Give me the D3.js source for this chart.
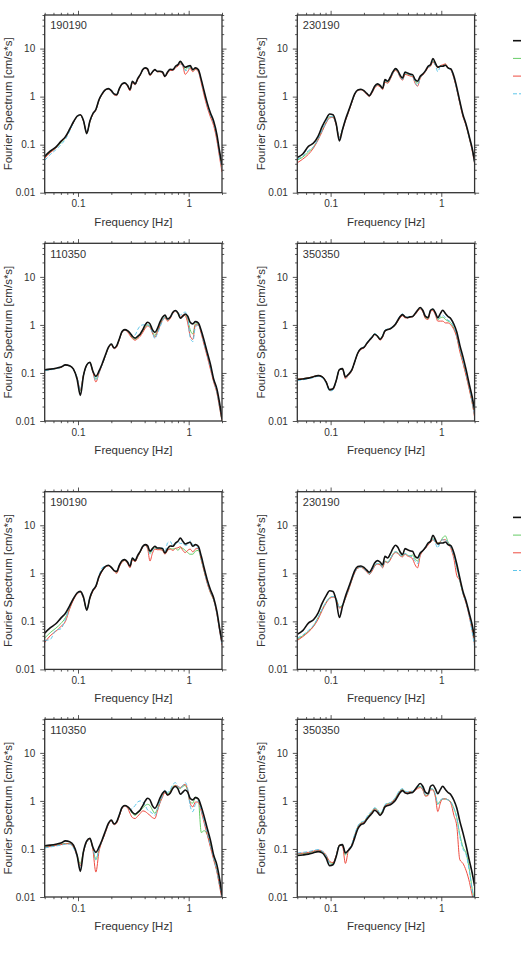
<!DOCTYPE html>
<html><head><meta charset="utf-8">
<script src="https://cdn.jsdelivr.net/npm/d3@7"></script>
<style>html,body{margin:0;padding:0;background:#fff;}svg{display:block;}</style>
</head><body>
<script>
const freq = [0.05,0.056,0.063,0.07,0.077,0.084,0.091,0.098,0.105,0.112,0.12,0.128,0.136,0.145,0.155,0.165,0.176,0.188,0.2,0.212,0.224,0.236,0.25,0.265,0.28,0.295,0.31,0.328,0.346,0.365,0.385,0.405,0.425,0.447,0.47,0.495,0.52,0.55,0.58,0.61,0.645,0.68,0.72,0.76,0.8,0.84,0.885,0.93,0.98,1.03,1.09,1.15,1.22,1.3,1.38,1.47,1.57,1.68,1.8,1.9,2.0];

const obs190190 = [0.057,0.073,0.089,0.117,0.147,0.21,0.30,0.39,0.42,0.32,0.17,0.31,0.44,0.54,0.87,1.14,1.38,1.47,1.33,1.14,1.1,1.47,1.84,1.93,1.72,1.4,2.09,1.84,2.37,2.87,3.65,3.96,3.77,2.87,3.26,3.65,3.37,3.37,3.26,2.65,3.26,3.71,3.65,4.28,4.64,5.45,4.64,4.08,4.28,4.42,3.65,3.96,3.65,2.26,1.29,0.74,0.46,0.31,0.16,0.073,0.038];
const obs230190 = [0.054,0.064,0.092,0.108,0.149,0.24,0.34,0.435,0.42,0.28,0.12,0.205,0.33,0.5,0.77,1.14,1.38,1.42,1.33,1.17,1.05,1.25,1.64,1.84,1.72,1.5,2.26,2.09,2.53,3.26,3.83,3.48,2.78,2.45,3.26,3.1,2.96,2.87,2.26,2.09,2.65,2.96,3.48,4.28,4.64,6.2,5.0,4.08,4.28,4.28,4.5,3.96,3.77,2.65,1.56,0.8,0.42,0.26,0.14,0.085,0.045];
const obs110350 = [0.117,0.12,0.125,0.133,0.147,0.142,0.12,0.075,0.034,0.088,0.147,0.167,0.11,0.085,0.11,0.154,0.23,0.34,0.4,0.33,0.37,0.51,0.73,0.8,0.76,0.68,0.58,0.53,0.58,0.65,0.8,1.0,1.14,1.05,0.8,0.7,0.83,1.14,1.44,1.6,1.33,1.44,1.84,1.99,1.78,1.38,1.52,1.69,1.52,1.14,1.05,1.17,1.1,0.76,0.47,0.27,0.154,0.075,0.046,0.024,0.011];
const obs350350 = [0.073,0.075,0.078,0.083,0.088,0.083,0.065,0.045,0.047,0.068,0.117,0.123,0.083,0.094,0.114,0.17,0.26,0.32,0.34,0.41,0.48,0.545,0.64,0.58,0.5,0.58,0.75,0.8,0.83,0.91,1.03,1.25,1.5,1.64,1.47,1.42,1.47,1.5,1.72,2.02,2.3,2.02,1.5,1.42,2.02,2.15,1.78,1.42,1.72,2.02,1.72,1.5,1.35,1.03,0.71,0.38,0.216,0.114,0.055,0.032,0.017];

// (a) upper figure
const green1a = [0.055,0.07,0.085,0.11,0.14,0.2,0.29,0.38,0.41,0.31,0.175,0.3,0.43,0.53,0.85,1.12,1.36,1.45,1.3,1.1,1.08,1.45,1.8,1.9,1.7,1.38,2.0,1.8,2.3,2.8,3.6,3.9,3.7,2.8,3.2,3.6,3.3,3.3,3.2,2.6,3.2,3.6,3.6,4.2,4.5,5.2,4.5,3.7,4.0,4.2,3.5,3.8,3.5,2.1,1.2,0.7,0.43,0.29,0.14,0.065,0.032];
const red1a = [0.052,0.068,0.085,0.115,0.14,0.2,0.29,0.38,0.41,0.31,0.18,0.3,0.42,0.52,0.84,1.1,1.35,1.44,1.28,1.08,1.05,1.42,1.78,1.88,1.65,1.32,1.95,1.75,2.25,2.8,3.55,3.85,3.6,2.75,3.15,3.55,3.25,3.3,3.1,2.55,3.1,3.5,3.5,4.0,4.3,4.8,4.3,2.9,3.3,3.9,3.3,3.7,3.3,1.9,1.05,0.6,0.38,0.25,0.12,0.055,0.027];
const cyan1a = [0.047,0.062,0.078,0.1,0.13,0.19,0.29,0.38,0.41,0.32,0.18,0.3,0.43,0.53,0.85,1.12,1.37,1.46,1.3,1.1,1.08,1.45,1.8,1.9,1.7,1.38,2.05,1.8,2.35,2.85,3.6,3.9,3.7,2.85,3.25,3.6,3.3,3.35,3.2,2.6,3.2,3.6,3.6,4.2,4.5,5.0,4.4,3.5,3.6,4.3,3.6,3.9,3.5,2.1,1.2,0.68,0.42,0.28,0.14,0.062,0.032];
const green2a = [0.048,0.055,0.07,0.09,0.13,0.2,0.29,0.38,0.38,0.27,0.14,0.21,0.32,0.48,0.75,1.12,1.36,1.4,1.3,1.15,1.03,1.2,1.55,1.75,1.65,1.45,2.1,1.95,2.4,3.1,3.6,3.3,2.6,2.3,3.0,2.9,2.8,2.7,2.1,1.9,2.5,2.85,3.4,4.1,4.4,5.5,4.6,4.0,4.3,4.4,4.7,4.0,3.7,2.5,1.45,0.75,0.4,0.25,0.13,0.08,0.042];
const red2a = [0.042,0.05,0.063,0.085,0.125,0.19,0.28,0.36,0.37,0.26,0.14,0.2,0.31,0.47,0.74,1.1,1.34,1.38,1.28,1.12,1.0,1.18,1.5,1.7,1.6,1.4,2.0,1.9,2.3,3.0,3.5,3.2,2.5,2.2,2.9,2.8,2.7,2.6,1.9,1.65,2.4,2.8,3.3,4.0,4.3,5.3,4.5,4.0,4.4,4.6,4.8,4.0,3.6,2.4,1.4,0.72,0.38,0.24,0.13,0.075,0.04];
const cyan2a = [0.05,0.058,0.075,0.09,0.13,0.2,0.29,0.38,0.38,0.27,0.14,0.21,0.32,0.49,0.76,1.12,1.36,1.4,1.3,1.15,1.03,1.22,1.58,1.78,1.66,1.45,2.15,2.0,2.4,3.1,3.7,3.35,2.6,2.3,3.1,3.0,2.85,2.7,2.0,1.7,2.5,2.85,3.4,4.1,4.4,5.6,4.5,3.3,4.2,4.4,4.5,3.9,3.6,2.5,1.4,0.75,0.4,0.25,0.13,0.08,0.04];
const green3a = [0.115,0.118,0.123,0.13,0.145,0.14,0.118,0.08,0.042,0.09,0.145,0.165,0.11,0.075,0.105,0.15,0.22,0.33,0.39,0.33,0.36,0.5,0.72,0.79,0.74,0.64,0.55,0.5,0.55,0.62,0.75,0.9,1.0,0.95,0.72,0.6,0.75,1.0,1.3,1.45,1.25,1.4,1.8,1.95,1.7,1.4,1.55,1.6,1.3,0.8,0.65,1.05,1.05,0.7,0.42,0.24,0.14,0.07,0.04,0.02,0.01];
const red3a = [0.115,0.118,0.123,0.13,0.145,0.14,0.118,0.08,0.045,0.09,0.145,0.163,0.105,0.065,0.1,0.148,0.22,0.33,0.39,0.32,0.35,0.49,0.7,0.78,0.72,0.6,0.52,0.48,0.52,0.58,0.7,0.85,0.95,0.9,0.68,0.55,0.7,0.95,1.25,1.4,1.2,1.35,1.75,1.9,1.75,1.45,1.6,1.55,1.1,0.6,0.5,1.0,1.0,0.65,0.38,0.22,0.12,0.065,0.038,0.019,0.01];
const cyan3a = [0.112,0.116,0.122,0.13,0.145,0.14,0.118,0.082,0.045,0.09,0.145,0.163,0.108,0.07,0.1,0.15,0.22,0.34,0.4,0.33,0.37,0.5,0.72,0.8,0.75,0.65,0.6,0.62,0.8,0.95,1.0,1.0,1.0,0.9,0.7,0.52,0.65,0.9,1.2,1.45,1.3,1.4,1.75,1.95,1.85,1.6,1.75,1.85,1.4,0.55,0.45,0.9,1.0,0.7,0.4,0.24,0.13,0.07,0.04,0.02,0.011];
const green4a = [0.074,0.076,0.079,0.084,0.089,0.084,0.066,0.044,0.046,0.068,0.118,0.122,0.08,0.092,0.112,0.17,0.26,0.32,0.34,0.41,0.48,0.55,0.65,0.6,0.52,0.6,0.76,0.8,0.83,0.9,1.0,1.2,1.45,1.6,1.45,1.42,1.48,1.5,1.7,1.95,2.2,1.95,1.4,1.35,2.0,2.1,1.7,1.3,1.4,1.45,1.3,1.2,1.1,0.85,0.58,0.3,0.17,0.09,0.045,0.025,0.013];
const red4a = [0.074,0.076,0.079,0.084,0.089,0.084,0.066,0.044,0.045,0.066,0.116,0.12,0.076,0.09,0.11,0.17,0.25,0.31,0.33,0.4,0.47,0.54,0.63,0.58,0.48,0.56,0.74,0.8,0.83,0.9,1.0,1.2,1.4,1.55,1.4,1.4,1.45,1.48,1.65,1.9,2.15,1.9,1.35,1.3,1.9,2.0,1.6,1.2,1.2,1.2,1.1,1.1,1.0,0.8,0.55,0.28,0.16,0.085,0.043,0.024,0.012];
const cyan4a = [0.07,0.072,0.076,0.08,0.085,0.08,0.062,0.042,0.044,0.066,0.118,0.122,0.08,0.092,0.112,0.17,0.26,0.33,0.35,0.42,0.5,0.57,0.66,0.6,0.52,0.6,0.78,0.82,0.86,0.93,1.05,1.3,1.55,1.7,1.5,1.45,1.5,1.5,1.72,2.0,2.25,2.0,1.45,1.4,2.05,2.15,1.75,1.35,1.5,1.6,1.4,1.25,1.15,0.9,0.6,0.32,0.18,0.095,0.047,0.026,0.013];

// (b) lower figure
const green5b = [0.045,0.058,0.072,0.09,0.12,0.19,0.29,0.38,0.41,0.31,0.18,0.3,0.43,0.53,0.85,1.12,1.36,1.45,1.35,1.15,1.05,1.4,1.75,1.85,1.65,1.4,1.95,1.8,2.2,2.8,3.6,3.8,3.4,2.6,3.1,3.4,3.2,3.2,3.0,2.6,3.0,3.3,3.2,3.3,3.0,3.4,3.3,3.0,2.7,2.5,2.5,2.9,3.0,1.9,1.1,0.65,0.4,0.28,0.15,0.07,0.035];
const red5b = [0.036,0.05,0.062,0.078,0.1,0.18,0.28,0.37,0.4,0.3,0.18,0.3,0.42,0.52,0.82,1.1,1.35,1.42,1.3,1.1,1.0,1.35,1.7,1.85,1.6,1.3,1.9,1.75,2.2,2.8,3.5,3.8,3.3,1.8,2.6,3.2,3.1,3.1,3.0,2.5,3.0,3.2,3.0,3.3,3.4,3.6,3.0,2.7,3.0,3.2,2.8,3.2,3.3,1.9,1.1,0.62,0.4,0.28,0.14,0.065,0.032];
const cyan5b = [0.04,0.042,0.065,0.07,0.11,0.2,0.3,0.38,0.41,0.3,0.18,0.32,0.45,0.55,0.9,1.3,1.4,1.45,1.3,1.15,1.1,1.5,1.85,1.95,1.75,1.5,2.1,1.9,2.3,2.9,3.6,3.8,3.6,2.5,3.0,3.4,3.3,3.4,3.4,2.8,4.3,4.6,3.8,4.0,4.5,4.2,4.2,3.8,3.9,4.7,4.0,3.6,3.3,2.0,1.15,0.65,0.42,0.29,0.14,0.065,0.032];
const green6b = [0.042,0.05,0.062,0.08,0.12,0.18,0.25,0.31,0.33,0.3,0.2,0.22,0.3,0.45,0.72,1.05,1.3,1.35,1.25,1.1,0.98,1.15,1.45,1.6,1.55,1.35,1.8,1.7,2.0,2.5,2.8,2.7,2.4,2.3,2.6,2.4,2.3,2.4,2.0,1.8,2.5,3.0,3.4,4.0,4.5,5.3,4.6,4.3,4.5,5.5,6.0,4.5,3.6,2.4,1.4,0.7,0.38,0.24,0.13,0.07,0.035];
const red6b = [0.04,0.048,0.06,0.078,0.11,0.17,0.24,0.3,0.32,0.29,0.19,0.21,0.3,0.44,0.7,1.02,1.28,1.33,1.22,1.07,0.95,1.1,1.4,1.55,1.5,1.3,1.75,1.65,1.9,2.4,2.7,2.6,2.3,2.2,2.5,2.3,2.2,2.0,1.5,1.3,2.3,2.9,3.3,3.9,4.4,5.0,4.5,4.2,4.6,5.0,5.0,4.2,3.3,2.0,0.9,0.7,0.38,0.23,0.12,0.065,0.033];
const cyan6b = [0.045,0.052,0.065,0.083,0.12,0.18,0.25,0.31,0.33,0.3,0.2,0.22,0.31,0.46,0.73,1.05,1.3,1.35,1.25,1.1,0.98,1.15,1.45,1.6,1.55,1.35,1.8,1.7,2.0,2.5,2.8,2.7,2.4,2.3,2.6,2.4,2.3,2.2,1.8,1.6,2.5,3.0,3.4,4.0,4.6,5.2,4.2,3.4,4.5,5.0,5.0,4.3,3.5,2.3,1.3,0.72,0.38,0.24,0.12,0.06,0.03];
const green7b = [0.11,0.115,0.12,0.125,0.13,0.13,0.11,0.075,0.05,0.09,0.14,0.16,0.105,0.06,0.1,0.15,0.22,0.33,0.39,0.33,0.36,0.5,0.72,0.8,0.75,0.65,0.55,0.5,0.55,0.62,0.72,0.8,0.85,0.8,0.65,0.55,0.68,0.95,1.3,1.6,1.4,1.6,2.0,2.1,1.9,1.8,2.0,2.1,1.6,0.95,0.9,1.2,1.1,0.22,0.24,0.2,0.12,0.065,0.035,0.018,0.01];
const red7b = [0.108,0.112,0.118,0.123,0.128,0.128,0.11,0.07,0.045,0.085,0.14,0.16,0.1,0.033,0.09,0.145,0.21,0.32,0.38,0.32,0.35,0.48,0.7,0.78,0.72,0.55,0.45,0.43,0.48,0.55,0.62,0.6,0.55,0.5,0.45,0.43,0.6,0.9,1.2,1.5,1.3,1.5,1.9,2.1,2.0,1.9,2.1,2.2,1.7,0.9,0.75,0.95,0.95,0.6,0.35,0.2,0.11,0.06,0.033,0.017,0.009];
const cyan7b = [0.105,0.11,0.115,0.12,0.125,0.125,0.105,0.07,0.04,0.085,0.14,0.16,0.11,0.06,0.1,0.15,0.22,0.33,0.39,0.33,0.37,0.52,0.75,0.8,0.75,0.65,0.7,0.8,0.95,1.0,0.95,0.8,0.65,0.6,0.55,0.5,0.65,0.95,1.3,1.7,1.5,1.7,2.2,2.4,2.0,1.8,2.1,2.4,1.8,0.8,0.6,0.85,1.0,0.65,0.38,0.22,0.12,0.065,0.035,0.018,0.01];
const green8b = [0.078,0.08,0.083,0.088,0.092,0.088,0.072,0.052,0.05,0.07,0.12,0.12,0.075,0.095,0.12,0.19,0.29,0.35,0.37,0.44,0.52,0.6,0.7,0.65,0.55,0.62,0.82,0.88,0.9,1.0,1.15,1.4,1.65,1.75,1.55,1.5,1.55,1.55,1.7,1.9,2.0,1.75,1.3,1.35,1.8,1.75,1.3,0.85,1.0,1.1,1.1,1.05,0.95,0.7,0.45,0.2,0.11,0.08,0.035,0.015,0.008];
const red8b = [0.08,0.082,0.085,0.09,0.095,0.09,0.075,0.055,0.052,0.072,0.12,0.115,0.05,0.095,0.12,0.19,0.28,0.34,0.36,0.43,0.5,0.58,0.68,0.62,0.52,0.6,0.8,0.85,0.88,0.98,1.1,1.35,1.6,1.7,1.5,1.5,1.55,1.55,1.65,1.8,1.9,1.7,1.25,1.3,1.7,1.7,1.2,0.6,0.9,1.1,1.1,1.05,0.9,0.5,0.3,0.06,0.05,0.035,0.02,0.011,0.007];
const cyan8b = [0.082,0.085,0.088,0.093,0.097,0.09,0.073,0.05,0.046,0.07,0.12,0.12,0.078,0.098,0.125,0.2,0.3,0.36,0.38,0.46,0.55,0.62,0.72,0.66,0.56,0.64,0.84,0.9,0.92,1.02,1.18,1.45,1.7,1.8,1.6,1.55,1.6,1.6,1.75,1.95,2.05,1.8,1.35,1.35,1.8,1.75,1.4,0.85,1.05,1.1,1.1,1.05,0.95,0.7,0.45,0.18,0.1,0.075,0.033,0.014,0.008];

const panelLabels = ["190190","230190","110350","350350","190190","230190","110350","350350"];
const panelSeries = [
  [obs190190, green1a, red1a, cyan1a],
  [obs230190, green2a, red2a, cyan2a],
  [obs110350, green3a, red3a, cyan3a],
  [obs350350, green4a, red4a, cyan4a],
  [obs190190, green5b, red5b, cyan5b],
  [obs230190, green6b, red6b, cyan6b],
  [obs110350, green7b, red7b, cyan7b],
  [obs350350, green8b, red8b, cyan8b]
];
const xTickLabels = [0.1, 1];
const yTickLabels = [0.01, 0.1, 1, 10];
const xTitle = "Frequency [Hz]";
const yTitle = "Fourier Spectrum [cm/s*s]";

// styling / layout
const seriesColor = ["#111111", "#66cc66", "#ee4c40", "#5fc6ea"];
const seriesWidth = [1.6, 1, 1, 1];
const seriesDash = [null, null, null, "4,2"];
const drawOrder = [1, 2, 3, 0];
const W = 521, H = 953;
const colLeft = [44.7, 297.3];
const rowTop = [15, 243.3, 491.7, 719.3];
const pw = 177.3, ph = 177.7;
const groupTop = [15, 491.7];
const FONT = "'Liberation Sans', Arial, Helvetica, sans-serif";

const svg = d3.select("body").append("svg").attr("width", W).attr("height", H)
  .style("font-family", FONT);

const x = d3.scaleLog().domain([0.05, 2]).range([0, pw]);
const y = d3.scaleLog().domain([0.01, 50]).range([ph, 0]);

function minorTicks(lo, hi) {
  const out = [];
  for (let e = -3; e <= 2; e++) {
    for (let m = 1; m <= 9; m++) {
      const v = +(m * Math.pow(10, e)).toPrecision(6);
      if (v >= lo * 0.9999 && v <= hi * 1.0001) out.push(v);
    }
  }
  return out;
}
const xMinor = minorTicks(0.05, 2).filter(v => !xTickLabels.includes(v));
const yMinor = minorTicks(0.01, 50).filter(v => !yTickLabels.includes(v));

const defs = svg.append("defs");
defs.append("clipPath").attr("id", "plotclip").append("rect")
  .attr("x", 0).attr("y", 0).attr("width", pw).attr("height", ph);

const line = d3.line()
  .x((d, i) => x(freq[i]))
  .y(d => y(d))
  .curve(d3.curveMonotoneX);

panelLabels.forEach((lab, i) => {
  const col = i % 2, row = Math.floor(i / 2);
  const g = svg.append("g").attr("transform", `translate(${colLeft[col]},${rowTop[row]})`);

  const lg = g.append("g").attr("clip-path", "url(#plotclip)");
  drawOrder.forEach(k => {
    lg.append("path").datum(panelSeries[i][k])
      .attr("d", line)
      .attr("fill", "none")
      .attr("stroke", seriesColor[k])
      .attr("stroke-width", seriesWidth[k])
      .attr("stroke-dasharray", seriesDash[k])
      .attr("stroke-linejoin", "round");
  });

  const tickStyle = sel => {
    sel.select(".domain").remove();
    sel.selectAll("line").attr("stroke", "#444").attr("stroke-width", 0.9);
    sel.selectAll("text").attr("fill", "#333").style("font-size", "10px").style("font-family", FONT);
  };
  const addAxis = (gen, tx, ty, labeled) => {
    const a = g.append("g").attr("transform", `translate(${tx},${ty})`).call(gen);
    tickStyle(a);
    if (!labeled) a.selectAll("text").remove();
    return a;
  };
  addAxis(d3.axisBottom(x).tickValues(xMinor).tickSize(2.2), 0, ph, false);
  addAxis(d3.axisTop(x).tickValues(xMinor).tickSize(2.2), 0, 0, false);
  addAxis(d3.axisLeft(y).tickValues(yMinor).tickSize(2.2), 0, 0, false);
  addAxis(d3.axisRight(y).tickValues(yMinor).tickSize(2.2), pw, 0, false);
  addAxis(d3.axisBottom(x).tickValues(xTickLabels).tickSize(4.2).tickPadding(3.5).tickFormat(d3.format("~g")), 0, ph, true);
  addAxis(d3.axisTop(x).tickValues(xTickLabels).tickSize(4.2), 0, 0, false);
  addAxis(d3.axisLeft(y).tickValues(yTickLabels).tickSize(4.5).tickPadding(5).tickFormat(d3.format("~g")), 0, 0, true);
  addAxis(d3.axisRight(y).tickValues(yTickLabels).tickSize(4.5), pw, 0, false);

  g.append("rect").attr("x", 0).attr("y", 0).attr("width", pw).attr("height", ph)
    .attr("fill", "none").attr("stroke", "#333").attr("stroke-width", 1.3);

  g.append("text").attr("x", 5.5).attr("y", 14.3).text(lab)
    .attr("fill", "#333").style("font-size", "11px");

  g.append("text").attr("x", pw / 2).attr("y", ph + 33).attr("text-anchor", "middle")
    .attr("fill", "#333").style("font-size", "11.5px").text(xTitle);
  g.append("text").attr("transform", `translate(-32.5,${ph / 2}) rotate(-90)`)
    .attr("text-anchor", "middle").attr("fill", "#333").style("font-size", "11.5px").text(yTitle);
});

// legend line samples (their labels are outside the visible page in the original)
groupTop.forEach(gt => {
  seriesColor.forEach((c, k) => {
    svg.append("line")
      .attr("x1", 513).attr("x2", 545)
      .attr("y1", gt + 25.7 + k * 17.7).attr("y2", gt + 25.7 + k * 17.7)
      .attr("stroke", c).attr("stroke-width", seriesWidth[k])
      .attr("stroke-dasharray", seriesDash[k]);
  });
});
</script>
</body></html>
